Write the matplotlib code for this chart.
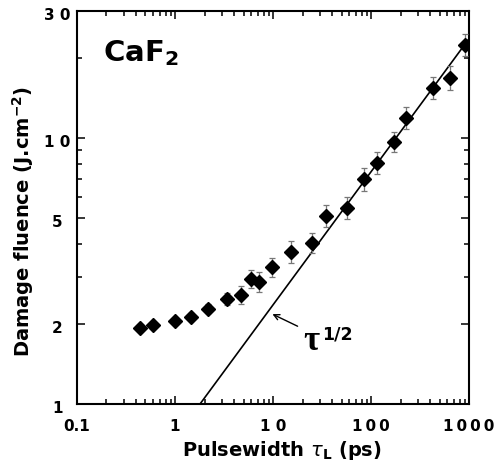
import numpy as np
import matplotlib
matplotlib.use("Agg")
import matplotlib.pyplot as plt
from matplotlib.ticker import FixedLocator, LogLocator, NullFormatter
from matplotlib.transforms import ScaledTranslation

# data (pulse width in ps, damage fluence in J/cm2)
tau = [0.44, 0.60, 1.0, 1.45, 2.16, 3.42, 4.68, 5.97, 7.25, 9.7, 15.3, 25,
       34.7, 56.5, 85.5, 114, 171, 225, 429, 635, 904]
fluence = [1.93, 1.98, 2.05, 2.13, 2.28, 2.48, 2.56, 2.96, 2.87, 3.26, 3.72, 4.03,
           5.07, 5.45, 6.98, 8.06, 9.68, 11.9, 15.4, 16.8, 22.4]
err_frac = [0.03, 0.03, 0.03, 0.03, 0.04, 0.05, 0.08, 0.08, 0.09, 0.09, 0.10, 0.09,
            0.10, 0.10, 0.10, 0.10, 0.09, 0.10, 0.10, 0.11, 0.10]

# tau^1/2 guide line end points
line_x = [1.8, 1000]
line_y = [1.0, 23.6]

xticks = [0.1, 1, 10, 100, 1000]
xlabels = ["0.1", "1", "1 0", "1\u20090\u20090", "1\u20090\u20090\u20090"]
yticks = [1, 2, 5, 10, 30]
ylabels = ["1", "2", "5", "1 0", "3 0"]
yminor = [3, 4, 6, 7, 8, 9, 20]

fl = np.array(fluence)
ef = np.array(err_frac)
yerr = [fl - fl / (1 + ef), fl * ef]

fig = plt.figure(figsize=(4.99, 4.70), dpi=100)
ax = fig.add_axes([0.1543, 0.1404, 0.7856, 0.8362])

ax.plot(line_x, line_y, color="black", lw=1.2, zorder=2)
ax.errorbar(tau, fluence, yerr=yerr, fmt="none", ecolor="#777777",
            elinewidth=0.9, capsize=2.5, capthick=0.9, zorder=3)
ax.plot(tau, fluence, "D", color="black", ms=6.8, zorder=4)

ax.set_xscale("log")
ax.set_yscale("log")
ax.set_xlim(0.1, 1000)
ax.set_ylim(1, 30)

ax.xaxis.set_major_locator(FixedLocator(xticks))
ax.xaxis.set_minor_locator(LogLocator(base=10, subs=np.arange(2, 10)))
ax.xaxis.set_minor_formatter(NullFormatter())
ax.set_xticklabels(xlabels)
ax.yaxis.set_major_locator(FixedLocator(yticks))
ax.yaxis.set_minor_locator(FixedLocator(yminor))
ax.yaxis.set_minor_formatter(NullFormatter())
ax.set_yticklabels(ylabels)

for s in ax.spines.values():
    s.set_linewidth(1.5)
ax.tick_params(which="both", direction="in", top=True, right=True, width=1.1)
ax.tick_params(which="major", length=6)
ax.tick_params(which="minor", length=3.5)
ax.tick_params(axis="x", pad=11, labelsize=11)
ax.tick_params(axis="y", pad=14, labelsize=11)
for lab in ax.get_xticklabels() + ax.get_yticklabels():
    lab.set_fontweight("bold")
for lab in ax.get_yticklabels():
    lab.set_horizontalalignment("center")
    lab.set_transform(lab.get_transform() + ScaledTranslation(0, -2.2 / 72, fig.dpi_scale_trans))

ax.set_xlabel(r"Pulsewidth $\tau_\mathbf{L}$ (ps)", fontsize=14, fontweight="bold")
ax.xaxis.set_label_coords(0.523, -0.09)
ax.set_ylabel(r"Damage fluence (J.cm$^{\mathbf{-2}}$)", fontsize=14, fontweight="bold")
ax.yaxis.set_label_coords(-0.105, 0.464)

ax.text(0.184, 19.4, r"CaF$_{\mathbf{2}}$", fontsize=21, fontweight="bold")

ax.annotate("", xy=(9.3, 2.2), xytext=(18.9, 1.94),
            arrowprops=dict(arrowstyle="->", color="black", lw=1.0))
ax.text(20.5, 1.60, "\u03c4", fontsize=25, fontweight="bold", family="Liberation Serif")
ax.text(31.5, 1.745, "1/2", fontsize=12.5, fontweight="bold")

fig.savefig("out.png", dpi=100)
